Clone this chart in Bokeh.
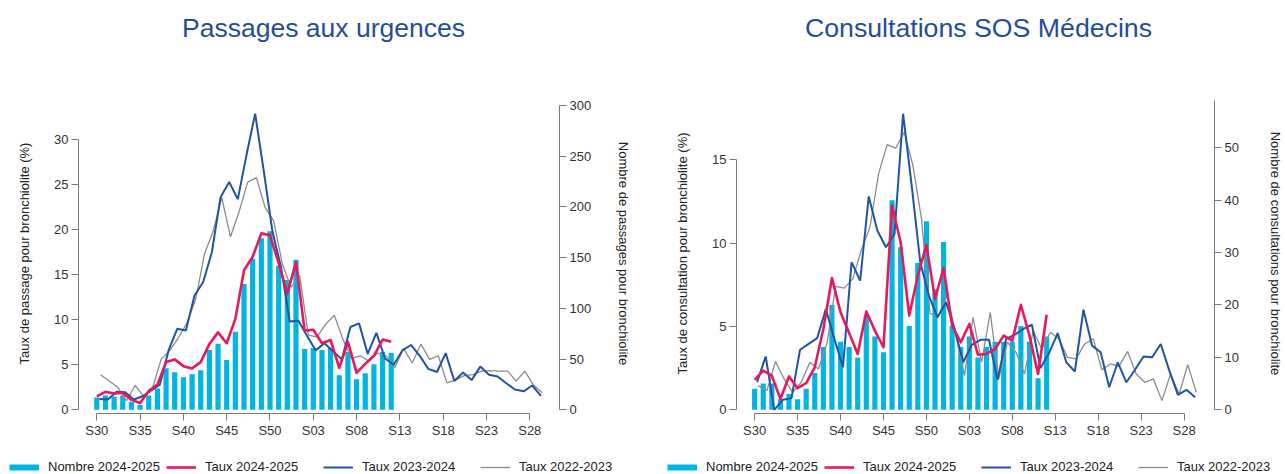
import datetime as dt

from bokeh.core.properties import value
from bokeh.embed import file_html
from bokeh.layouts import column, row
from bokeh.models import FixedTicker, Legend, LegendItem, LinearAxis, Range1d
from bokeh.plotting import figure
from bokeh.resources import INLINE

# ---------------------------------------------------------------- data
# Season weeks run from ISO week 30 to week 29 of the following year.
week_tick_pos = [0, 5, 10, 15, 20, 25, 30, 35, 40, 45, 50]
week_tick_labels = ["S30", "S35", "S40", "S45", "S50", "S03", "S08", "S13", "S18", "S23", "S28"]

seasons = ["2024-2025", "2023-2024", "2022-2023"]

# Passages aux urgences
urg_nombre_2425 = [12, 14, 13, 14, 8, 5, 14, 21, 41, 37, 32, 35, 39, 59, 65, 49, 77, 124,
                   149, 169, 176, 142, 128, 148, 60, 61, 59, 61, 34, 57, 30, 36, 45, 57, 56]
urg_taux_2425 = [1.5, 2.0, 1.8, 1.9, 1.1, 0.75, 2.1, 2.8, 5.3, 5.6, 4.85, 4.6, 5.3, 7.3, 8.6,
                 7.4, 10.1, 15.5, 17.0, 19.6, 19.4, 16.3, 12.9, 16.4, 8.8, 8.9, 7.4, 7.75, 4.65,
                 7.55, 4.1, 5.1, 6.0, 7.8, 7.55]
urg_taux_2324 = [1.2, 1.15, 2.0, 1.95, 1.15, 1.5, 2.15, 2.8, 6.6, 9.0, 8.8, 12.7, 14.2, 17.5,
                 23.6, 25.3, 23.4, 28.3, 32.9, 26.5, 19.8, 15.8, 9.8, 9.9, 8.2, 6.6, 7.4, 6.5,
                 5.6, 9.2, 9.6, 6.2, 8.55, 5.7, 5.0, 6.6, 7.2, 6.0, 4.55, 4.2, 6.3, 3.2, 4.15,
                 3.3, 4.8, 3.9, 3.7, 2.95, 2.25, 2.05, 2.7, 1.55]
urg_taux_2223 = [3.9, 3.2, 2.5, 1.0, 2.7, 1.5, 2.4, 5.6, 6.6, 8.0, 9.7, 12.3, 17.3, 19.8, 23.6,
                 19.2, 22.0, 25.3, 25.8, 22.5, 21.0, 16.2, 13.6, 14.9, 8.3, 8.1, 9.5, 10.5, 7.8,
                 5.7, 6.0, 5.4, 6.3, 6.0, 4.7, 6.8, 5.2, 7.3, 5.6, 6.0, 3.0, 3.3, 3.8, 3.9, 4.3,
                 4.35, 4.3, 4.3, 3.2, 4.3, 2.75, 1.9]

# Consultations SOS Médecins
sos_nombre_2425 = [4, 5, 5, 2, 3, 2, 4, 7, 12, 20, 13, 12, 10, 18, 14, 11, 40, 31, 16, 28, 36,
                   23, 32, 16, 12, 14, 10, 12, 13, 13, 13, 16, 13, 6, 14]
sos_taux_2425 = [1.8, 2.35, 2.05, 0.65, 2.0, 1.3, 1.6, 2.55, 4.85, 7.9, 5.85, 4.6, 3.35, 5.9,
                 4.75, 3.75, 12.25, 10.05, 5.65, 8.05, 9.9, 6.65, 8.5, 5.05, 4.05, 5.15, 3.3,
                 3.35, 3.65, 4.45, 4.15, 6.3, 4.45, 2.15, 5.7]
sos_taux_2324 = [1.65, 3.2, 0.0, 0.6, 0.7, 3.6, 3.95, 4.3, 6.05, 4.25, 2.55, 8.85, 7.75, 12.8,
                 10.75, 9.75, 10.55, 17.75, 13.45, 8.85, 6.85, 5.55, 6.45, 4.85, 2.85, 3.9, 4.2,
                 4.2, 1.8, 4.25, 4.5, 4.85, 5.1, 2.5, 3.4, 4.6, 2.85, 2.3, 6.0, 3.85, 3.45, 1.35,
                 2.85, 1.65, 2.4, 3.2, 3.15, 3.95, 2.35, 0.9, 1.2, 0.75]
sos_taux_2223 = [1.45, 1.15, 2.9, 1.85, 1.05, 1.65, 2.85, 2.45, 4.0, 7.4, 7.3, 7.85, 9.6, 10.95,
                 14.15, 15.9, 15.7, 16.65, 14.65, 11.45, 5.75, 5.65, 6.9, 4.45, 2.05, 5.55, 2.85,
                 5.85, 1.85, 4.05, 3.45, 2.15, 4.75, 3.65, 4.65, 4.25, 3.15, 3.05, 3.95, 4.25,
                 2.4, 2.75, 2.6, 3.5, 2.15, 1.65, 1.85, 0.55, 2.15, 0.95, 2.7, 1.05]

# ---------------------------------------------------------------- styling
CYAN = "#00b4e4"
RED = "#e8185d"
BLUE = "#1f55a3"
GREY = "#8c8c8c"
TITLE_BLUE = "#1f4e9a"
AXIS_GREY = "#7a7a7a"
FONT = "Liberation Sans"

HEADER_H = 93
CHART_H = 362
FOOTER_H = 474 - HEADER_H - CHART_H

BAR_STYLE = dict(color=CYAN, width=6)
CUR_STYLE = dict(color=RED, width=2.6)
PREV_STYLE = dict(color=BLUE, width=2)
PREV2_STYLE = dict(color=GREY, width=1.3)


def week_x(season_start_year, n):
    """Weeks are placed on the 2024-2025 calendar, so earlier seasons sit a few days later."""
    base = dt.date.fromisocalendar(2024, 30, 1)
    start = dt.date.fromisocalendar(season_start_year, 30, 1).replace(year=2024)
    shift = (start - base).days / 7
    return [i + shift for i in range(n)]


def style_axis(ax):
    ax.axis_line_color = AXIS_GREY
    ax.axis_line_width = 1
    ax.major_tick_line_color = AXIS_GREY
    ax.minor_tick_line_color = None
    ax.major_tick_out = 7
    ax.major_tick_in = 0
    ax.major_label_standoff = 3
    ax.major_label_text_font = FONT
    ax.major_label_text_font_size = "13px"
    ax.major_label_text_color = "#333333"
    ax.axis_label_text_font = FONT
    ax.axis_label_text_font_size = "13px"
    ax.axis_label_text_font_style = "normal"
    ax.axis_label_text_color = "#222222"


def blank_figure(width, height, x0, x1):
    f = figure(width=width, height=height, x_range=Range1d(x0, x1),
               y_range=Range1d(0, height), output_backend="svg", toolbar_location=None,
               x_axis_location=None, y_axis_location=None,
               min_border_left=0, min_border_right=0, min_border_top=0, min_border_bottom=0,
               outline_line_color=None, border_fill_color="white")
    f.xgrid.visible = False
    f.ygrid.visible = False
    return f


def make_header(title, width, border_left, border_right, center_x, font_size):
    # the header shares its frame edges with the chart below it, so its x range
    # is expressed in canvas pixels
    h = blank_figure(width, HEADER_H, border_left, width - border_right)
    h.text(x=[center_x], y=[HEADER_H - 27], text=[title], text_align="center",
           text_baseline="middle", text_font=value(FONT), text_font_size=font_size,
           text_color=TITLE_BLUE)
    return h


def make_footer(width, key_starts):
    f = blank_figure(width, FOOTER_H, 0, width)
    for start in key_starts:
        keys = []
        for label, st in [("Nombre " + seasons[0], BAR_STYLE),
                          ("Taux " + seasons[0], CUR_STYLE),
                          ("Taux " + seasons[1], PREV_STYLE),
                          ("Taux " + seasons[2], PREV2_STYLE)]:
            r = f.line(x=[float("nan")], y=[float("nan")],
                       line_color=st["color"], line_width=st["width"])
            keys.append(LegendItem(label=label, renderers=[r]))
        f.add_layout(Legend(items=keys, location=(start, 0), orientation="horizontal",
                            glyph_width=30, glyph_height=14, label_height=14,
                            label_width=112, label_standoff=9, padding=0, margin=0,
                            spacing=6, border_line_color=None, background_fill_alpha=0,
                            label_text_font=FONT, label_text_font_size="13px",
                            label_text_color="#222222"))
    return f


def make_chart(width, border_left, border_right, left_label, right_label,
               nombre, taux_cur, taux_prev, taux_prev2,
               left_range, right_range, left_ticks, right_ticks, right_top,
               left_standoff, right_standoff):
    px_per_week = 8.66
    frame_w = width - border_left - border_right
    x0 = -2.113
    p = figure(width=width, height=CHART_H,
               x_range=Range1d(x0, x0 + frame_w / px_per_week),
               y_range=Range1d(*left_range),
               output_backend="svg", toolbar_location=None,
               min_border_left=border_left, min_border_right=border_right,
               min_border_top=0, min_border_bottom=42,
               outline_line_color=None, background_fill_color="white",
               border_fill_color="white")
    p.extra_y_ranges = {"n": Range1d(*right_range)}
    p.xgrid.visible = False
    p.ygrid.visible = False

    x_cur = week_x(2024, len(nombre))
    p.vbar(x=x_cur, top=nombre, width=0.6, y_range_name="n",
           fill_color=CYAN, line_color=None)
    p.line(week_x(2022, len(taux_prev2)), taux_prev2,
           line_color=PREV2_STYLE["color"], line_width=PREV2_STYLE["width"])
    p.line(week_x(2023, len(taux_prev)), taux_prev,
           line_color=PREV_STYLE["color"], line_width=PREV_STYLE["width"])
    p.line(week_x(2024, len(taux_cur)), taux_cur,
           line_color=CUR_STYLE["color"], line_width=CUR_STYLE["width"], line_join="round")

    xa = p.xaxis[0]
    style_axis(xa)
    xa.ticker = FixedTicker(ticks=week_tick_pos)
    xa.major_label_overrides = {t: s for t, s in zip(week_tick_pos, week_tick_labels)}
    xa.bounds = (week_tick_pos[0], week_tick_pos[-1])
    xa.major_label_standoff = 2

    ya = p.yaxis[0]
    style_axis(ya)
    ya.ticker = FixedTicker(ticks=left_ticks)
    ya.bounds = (left_ticks[0], left_ticks[-1])
    ya.axis_label = left_label
    ya.axis_label_standoff = left_standoff

    ra = LinearAxis(y_range_name="n")
    style_axis(ra)
    ra.ticker = FixedTicker(ticks=right_ticks)
    ra.bounds = (0, right_top)
    ra.axis_label = right_label
    ra.axis_label_standoff = right_standoff
    p.add_layout(ra, "right")
    return p


urg_chart = make_chart(658, 78, 99,
                       "Taux de passage pour bronchiolite (%)",
                       "Nombre de passages pour bronchiolite",
                       urg_nombre_2425, urg_taux_2425, urg_taux_2324, urg_taux_2223,
                       (-0.411, 35.14), (-3.65, 311.8),
                       [0, 5, 10, 15, 20, 25, 30], [0, 50, 100, 150, 200, 250, 300], 300,
                       19, 22)
urg_head = make_header("Passages aux urgences", 658, 78, 99, 323, "26.5px")

sos_chart = make_chart(627, 78, 67,
                       "Taux de consultation pour bronchiolite (%)",
                       "Nombre de consultations pour bronchiolite",
                       sos_nombre_2425, sos_taux_2425, sos_taux_2324, sos_taux_2223,
                       (-0.222, 18.97), (-0.706, 60.36),
                       [0, 5, 10, 15], [0, 10, 20, 30, 40, 50], 59,
                       19, 26)
sos_head = make_header("Consultations SOS Médecins", 627, 78, 67, 322, "26.7px")

footer = make_footer(1285, [9, 667])

layout = column(row(column(urg_head, urg_chart), column(sos_head, sos_chart)), footer)
open("out.html", "w").write(file_html(layout, INLINE))
